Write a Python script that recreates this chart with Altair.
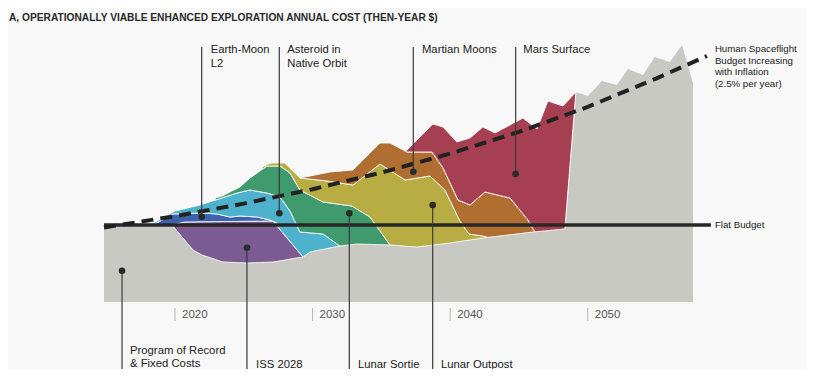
import numpy as np
import pandas as pd
import altair as alt

# ---------------- data (x = year, value = relative annual cost units) ----------------
X_MIN, X_MAX = 2014.84, 2057.65
Y_MIN, Y_MAX = -67, 294
FLAT_BUDGET = 77
FLAT_END = 2058.95

gray_years = [2014.84, 2019.78, 2021.31, 2021.96, 2023.49, 2025.23, 2027.12, 2029.30, 2029.81,
              2031.99, 2033.23, 2035.63, 2037.59, 2039.99, 2042.38, 2046.02, 2048.34, 2049.14,
              2050.01, 2051.03, 2052.12, 2052.92, 2054.01, 2054.88, 2055.97, 2056.85, 2057.65]
gray_top = [77, 77, 52, 47, 40, 39, 40, 45, 50, 56, 58, 57, 55, 59, 64, 70, 73, 210,
            206, 221, 217, 233, 227, 245, 240, 257, 219]

iss_years = [2019.78, 2020.73, 2027.12, 2029.30]
iss_top = [77, 80, 81, 45]

eml2_years = [2018.40, 2019.85, 2021.96, 2023.05, 2024.00, 2024.72, 2025.96, 2026.90, 2027.41, 2027.60]
eml2_top = [77, 88, 89, 88, 85, 86, 85, 82, 79, 70]

asteroid_years = [2018.18, 2020.00, 2021.82, 2024.51, 2025.45, 2026.69, 2027.63, 2028.36, 2029.08, 2030.76, 2031.99]
asteroid_top = [77, 91, 97, 109, 112, 109, 105, 91, 70, 68, 56]

sortie_years = [2022.91, 2023.42, 2024.72, 2025.45, 2026.69, 2027.63, 2028.36, 2029.08, 2030.76, 2032.86, 2034.17, 2035.63]
sortie_top = [104, 106, 115, 124, 136, 136, 129, 112, 100, 96, 85, 57]

outpost_years = [2026.32, 2026.76, 2027.05, 2027.99, 2029.08, 2031.05, 2032.94, 2034.90, 2036.72,
                 2038.53, 2039.62, 2040.71, 2041.37, 2042.38, 2042.89]
outpost_top = [135, 138, 139, 139, 124, 121, 117, 138, 122, 126, 112, 81, 68, 66, 64]

moons_years = [2029.08, 2031.26, 2032.94, 2034.90, 2035.63, 2036.86, 2038.68, 2039.48, 2040.57,
               2041.44, 2042.53, 2044.35, 2045.65, 2046.16]
moons_top = [124, 130, 132, 159, 159, 150, 150, 134, 102, 97, 110, 104, 82, 70]

surface_years = [2036.72, 2038.75, 2039.48, 2040.49, 2041.44, 2042.38, 2043.26, 2045.29, 2046.31,
                 2047.10, 2048.20, 2049.14]
surface_top = [150, 178, 175, 160, 164, 175, 169, 184, 173, 201, 196, 210]

dash_years = [2014.84, 2020, 2025, 2030, 2035, 2040, 2045, 2050, 2055, 2058.66]
dash_values = [74.5, 85.8, 98.4, 112.8, 129.4, 148.4, 170.1, 195.1, 223.7, 246]

layer_names = ["Program of Record", "ISS 2028", "Earth-Moon L2", "Asteroid in Native Orbit",
               "Lunar Sortie", "Lunar Outpost", "Martian Moons", "Mars Surface"]
layer_colors = ["#c9c9c4", "#7b5b92", "#3d63ae", "#4fb2cd", "#3f9a6e", "#b7ad43", "#b06f31", "#a73f52"]
layer_years = [gray_years, iss_years, eml2_years, asteroid_years, sortie_years, outpost_years,
               moons_years, surface_years]
layer_tops = [gray_top, iss_top, eml2_top, asteroid_top, sortie_top, outpost_top, moons_top, surface_top]

# annotations: label, leader x, dot value, text x
ann_labels = ["Earth-Moon\nL2", "Asteroid in\nNative Orbit", "Martian Moons", "Mars Surface"]
ann_x = [2021.94, 2027.58, 2037.32, 2044.76]
ann_dot = [85.3, 88.7, 130.3, 128]
ann_tx = [2022.59, 2028.16, 2037.95, 2045.31]

bot_labels = ["Program of Record\n& Fixed Costs", "ISS 2028", "Lunar Sortie", "Lunar Outpost"]
bot_x = [2016.15, 2025.23, 2032.67, 2038.73]
bot_dot = [31.3, 54.3, 88.7, 97]
bot_tx = [2016.73, 2025.89, 2033.30, 2039.33]
bot_ty = [-43, -57, -57, -57]

tick_years = [2020, 2030, 2040, 2050]
tick_labels = ["2020", "2030", "2040", "2050"]

TITLE = "A, OPERATIONALLY VIABLE ENHANCED EXPLORATION ANNUAL COST (THEN-YEAR $)"

# ---------------- build stacked band tables ----------------
grid = np.round(np.arange(X_MIN, X_MAX + 1e-9, 0.05), 4)
grid = np.unique(np.concatenate([grid] + [np.array(y, float) for y in layer_years]))
grid = grid[(grid >= X_MIN) & (grid <= X_MAX)]

prev = np.zeros_like(grid)
bands = []
for i, (ys, vs) in enumerate(zip(layer_years, layer_tops)):
    ys = np.array(ys, float)
    vs = np.array(vs, float)
    own = np.interp(grid, ys, vs)
    inside = (grid >= ys[0]) & (grid <= ys[-1])
    if i == 0:
        top = np.where(inside, own, 0.0)
        low = np.zeros_like(grid)
    else:
        top = np.where(inside, np.maximum(prev, own), prev)
        low = prev
    df = pd.DataFrame({"x": grid[inside], "lo": low[inside], "hi": top[inside]})
    bands.append(df)
    prev = top

def X(field="x"):
    return alt.X(f"{field}:Q", scale=alt.Scale(domain=[X_MIN, X_MAX], nice=False, zero=False), axis=None)

def Y(field):
    return alt.Y(f"{field}:Q", scale=alt.Scale(domain=[Y_MIN, Y_MAX], nice=False, zero=False), axis=None)

charts = []
for i, df in enumerate(bands):
    if i == 0:
        m = alt.Chart(df).mark_area(fill=layer_colors[i], fillOpacity=1, strokeWidth=0)
    else:
        m = alt.Chart(df).mark_area(fill=layer_colors[i], fillOpacity=1, stroke="white", strokeWidth=1)
    charts.append(m.encode(x=X(), y=Y("hi"), y2=alt.Y2("lo")))

flat_df = pd.DataFrame({"x": [X_MIN], "x2": [FLAT_END], "y": [FLAT_BUDGET]})
charts.append(alt.Chart(flat_df).mark_rule(color="#272727", strokeWidth=3.5).encode(
    x=X(), x2=alt.X2("x2"), y=Y("y")))

dash_df = pd.DataFrame({"x": dash_years, "y": dash_values})
charts.append(alt.Chart(dash_df).mark_line(color="#222222", strokeWidth=4, strokeDash=[12, 7]).encode(
    x=X(), y=Y("y")))

top_df = pd.DataFrame({"x": ann_x, "dot": ann_dot, "end": [255] * 4, "tx": ann_tx,
                       "ty": [258] * 4, "label": ann_labels})
bot_df = pd.DataFrame({"x": bot_x, "dot": bot_dot, "end": [-70] * 4, "tx": bot_tx,
                       "ty": bot_ty, "label": bot_labels})
for d in (top_df, bot_df):
    charts.append(alt.Chart(d).mark_rule(color="#3a3a3a", strokeWidth=1.2).encode(
        x=X(), y=Y("dot"), y2=alt.Y2("end")))
    charts.append(alt.Chart(d).mark_circle(size=44, color="#2a2a2a", opacity=1).encode(
        x=X(), y=Y("dot")))

charts.append(alt.Chart(top_df).mark_text(align="left", baseline="top", fontSize=11.3, lineHeight=14,
                                          lineBreak="\n", color="#222222", font="Liberation Sans").encode(
    x=X("tx"), y=Y("ty"), text="label:N"))
charts.append(alt.Chart(bot_df).mark_text(align="left", baseline="top", fontSize=11.3, lineHeight=13,
                                          lineBreak="\n", color="#222222", font="Liberation Sans").encode(
    x=X("tx"), y=Y("ty"), text="label:N"))

right_df = pd.DataFrame({"x": [2059.24, 2059.24], "y": [258, FLAT_BUDGET],
                         "label": ["Human Spaceflight\nBudget Increasing\nwith Inflation\n(2.5% per year)",
                                   "Flat Budget"]})
charts.append(alt.Chart(right_df.iloc[[0]]).mark_text(align="left", baseline="top", fontSize=9.7,
                                                      lineHeight=11.7, lineBreak="\n", color="#222222",
                                                      font="Liberation Sans").encode(
    x=X(), y=Y("y"), text="label:N"))
charts.append(alt.Chart(right_df.iloc[[1]]).mark_text(align="left", baseline="middle", fontSize=9.7,
                                                      color="#222222", font="Liberation Sans").encode(
    x=X(), y=Y("y"), text="label:N"))

tick_df = pd.DataFrame({"x": tick_years, "y1": [-6] * 4, "y2": [-19] * 4, "label": tick_labels, "ty": [-13] * 4})
charts.append(alt.Chart(tick_df).mark_rule(color="#b5b5b5", strokeWidth=1).encode(
    x=X(), y=Y("y1"), y2=alt.Y2("y2")))
charts.append(alt.Chart(tick_df).mark_text(align="left", baseline="middle", dx=7, fontSize=11.5,
                                           color="#555555", font="Liberation Sans").encode(
    x=X(), y=Y("ty"), text="label:N"))

title_df = pd.DataFrame({"label": [TITLE]})
charts.append(alt.Chart(title_df).mark_text(align="left", baseline="middle", fontSize=10.2, fontWeight="bold",
                                            color="#2a2a2a", font="Liberation Sans").encode(
    x=alt.value(-95), y=alt.value(10), text="label:N"))

chart = alt.layer(*charts).properties(
    width=589, height=361,
    autosize=alt.AutoSizeParams(type="none"),
    padding={"left": 96, "right": 113, "top": 0, "bottom": 0},
    background="#f8f8f8",
).configure_view(stroke=None)

chart.save("out.html", embed_options={"renderer": "svg", "actions": False})
